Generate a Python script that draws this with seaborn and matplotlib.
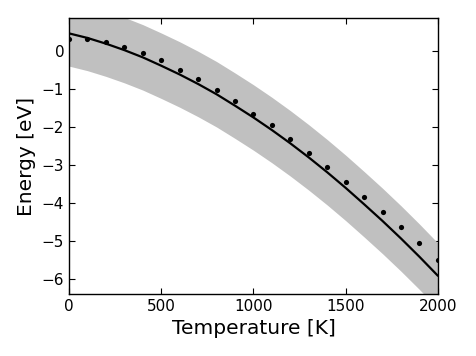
import numpy as np
import pandas as pd
import matplotlib
matplotlib.use('Agg')
import matplotlib.pyplot as plt
import seaborn as sns

# --- data ---
temperature = [0, 100, 200, 300, 400, 500, 600, 700, 800, 900, 1000,
               1100, 1200, 1300, 1400, 1500, 1600, 1700, 1800, 1900, 2000]
energy_points = [0.31, 0.29, 0.23, 0.10, -0.06, -0.26, -0.52, -0.76, -1.04, -1.34, -1.66,
                 -1.97, -2.32, -2.69, -3.06, -3.46, -3.84, -4.24, -4.65, -5.07, -5.50]
energy_fit = [0.45, 0.33, 0.18, 0.01, -0.18, -0.40, -0.63, -0.88, -1.15, -1.45, -1.76,
              -2.09, -2.44, -2.81, -3.20, -3.61, -4.04, -4.48, -4.94, -5.42, -5.92]
band_halfwidth = 0.86

df = pd.DataFrame({'T': temperature, 'E_pts': energy_points, 'E_fit': energy_fit})

sns.set_style('ticks')
plt.rcParams['font.family'] = ['DejaVu Sans']
plt.rcParams['xtick.direction'] = 'in'
plt.rcParams['ytick.direction'] = 'in'
plt.rcParams['text.color'] = 'black'
plt.rcParams['axes.labelcolor'] = 'black'
plt.rcParams['xtick.color'] = 'black'
plt.rcParams['ytick.color'] = 'black'

fig = plt.figure(figsize=(4.77, 3.56), dpi=100)
ax = fig.add_axes([0.1447, 0.174, 0.7733, 0.775])

ax.fill_between(df['T'], df['E_fit'] - band_halfwidth, df['E_fit'] + band_halfwidth,
                color='#c0c0c0', linewidth=0, zorder=1)
sns.lineplot(x='T', y='E_fit', data=df, color='black', linewidth=1.6, ax=ax, zorder=3)
sns.scatterplot(x='T', y='E_pts', data=df, color='black', s=14, edgecolor='black',
                linewidth=0, ax=ax, zorder=4)

ax.set_xlim(0, 2000)
ax.set_ylim(-6.4, 0.85)
ax.set_xticks([0, 500, 1000, 1500, 2000])
ax.set_yticks([0, -1, -2, -3, -4, -5, -6])
ax.set_yticklabels(['0', '\u22121', '\u22122', '\u22123', '\u22124', '\u22125', '\u22126'])
ax.tick_params(axis='both', which='major', labelsize=11, length=4, width=0.8,
               top=True, right=True, color='black', labelcolor='black')
ax.set_xlabel('Temperature [K]', fontsize=14.5)
ax.set_ylabel('Energy [eV]', fontsize=14.5)
for sp in ax.spines.values():
    sp.set_linewidth(1.0)
    sp.set_color('black')

fig.savefig('out.png', dpi=100)
plt.close(fig)
